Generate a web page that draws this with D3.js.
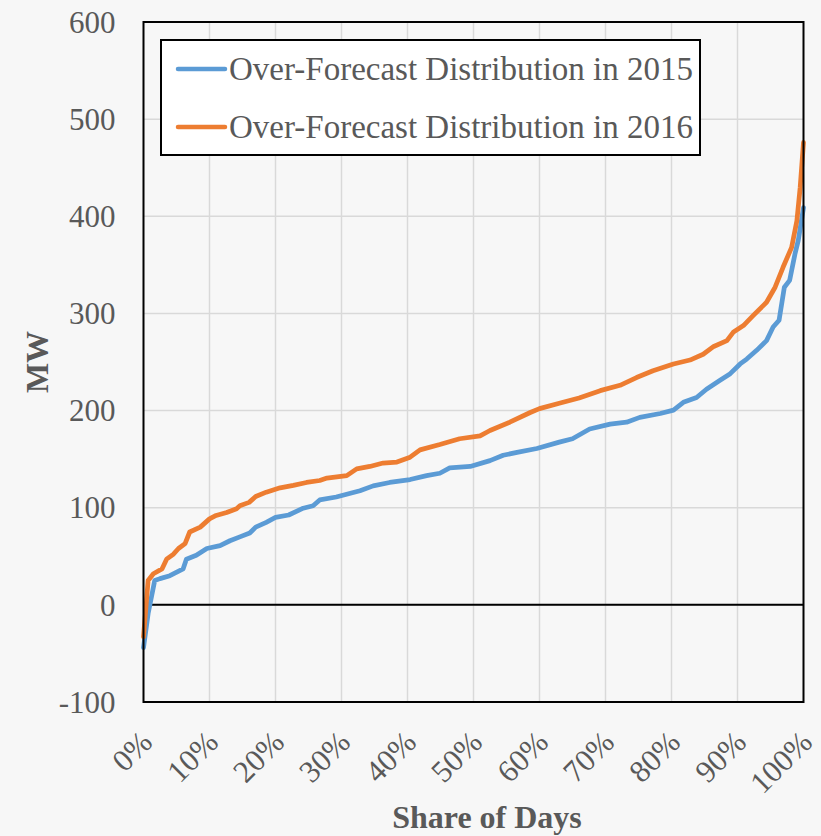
<!DOCTYPE html>
<html>
<head>
<meta charset="utf-8">
<script src="https://cdn.jsdelivr.net/npm/d3@7"></script>
<style>
  html, body { margin: 0; padding: 0; background: #f7f7f7; }
  svg { display: block; }
</style>
</head>
<body>
<script>
// ---- Data ----
const xTickValues = [0, 0.1, 0.2, 0.3, 0.4, 0.5, 0.6, 0.7, 0.8, 0.9, 1.0];
const yTickValues = [-100, 0, 100, 200, 300, 400, 500, 600];
const seriesNames = ["Over-Forecast Distribution in 2015", "Over-Forecast Distribution in 2016"];

const share2015 = [0, 0.007, 0.017, 0.025, 0.04, 0.06, 0.065, 0.08, 0.096, 0.116, 0.131, 0.146, 0.161, 0.17, 0.186, 0.20, 0.22, 0.242, 0.257, 0.267, 0.292, 0.328, 0.348, 0.373, 0.404, 0.429, 0.449, 0.464, 0.495, 0.525, 0.545, 0.566, 0.596, 0.63, 0.65, 0.676, 0.707, 0.732, 0.752, 0.783, 0.803, 0.818, 0.838, 0.853, 0.873, 0.889, 0.904, 0.914, 0.929, 0.944, 0.954, 0.963, 0.971, 0.979, 0.987, 0.992, 1.0];
const mw2015 = [-44, -9, 25, 27, 30, 37, 47, 51, 58, 61, 66, 70, 74, 80, 85, 90, 92.5, 99.5, 102, 108, 111, 117.5, 122.5, 126, 129, 133, 135.5, 141, 142.5, 148.5, 154, 157, 161, 167.5, 171, 181, 186, 188, 193, 197, 200.5, 208.5, 213.5, 222, 231, 238, 248, 253, 262, 272, 286, 293, 327, 334, 361, 375, 409];

const share2016 = [0, 0.007, 0.015, 0.028, 0.035, 0.045, 0.053, 0.063, 0.07, 0.086, 0.10, 0.11, 0.126, 0.141, 0.146, 0.16, 0.17, 0.186, 0.207, 0.227, 0.247, 0.267, 0.278, 0.308, 0.323, 0.343, 0.363, 0.384, 0.404, 0.419, 0.449, 0.479, 0.51, 0.525, 0.555, 0.586, 0.60, 0.63, 0.66, 0.692, 0.722, 0.747, 0.772, 0.803, 0.828, 0.848, 0.864, 0.884, 0.894, 0.909, 0.924, 0.944, 0.957, 0.969, 0.982, 0.99, 0.995, 1.0];
const mw2016 = [-33, 25, 32, 37, 47, 52, 58, 63, 75, 80, 88.5, 92, 95, 99, 102, 105.5, 111.5, 116, 120.5, 123, 126, 128, 130.5, 133, 140, 142.5, 146, 147, 152, 159.5, 165, 171, 174, 179.5, 188, 198, 202, 207.5, 213, 220.5, 226, 234, 241, 248, 252, 258, 266, 272, 281, 287.5, 298, 311.5, 327, 347.5, 368, 395.5, 430, 476];

const colors = ["#5b9bd5", "#ed7d31"];

// ---- Layout ----
const W = 821, H = 836;
const plot = { left: 143.5, right: 803.5, top: 22, bottom: 702 };
const FONT = "'Liberation Serif', 'Times New Roman', serif";
const textColor = "#595959";

const svg = d3.select("body").append("svg").attr("width", W).attr("height", H);
svg.append("rect").attr("width", W).attr("height", H).attr("fill", "#f7f7f7");

const x = d3.scaleLinear().domain([0, 1]).range([plot.left, plot.right]);
const y = d3.scaleLinear().domain([-100, 600]).range([plot.bottom, plot.top]);

// gridlines
const grid = svg.append("g");
grid.selectAll("line.v").data(xTickValues.slice(1, -1)).join("line")
  .attr("x1", d => x(d)).attr("x2", d => x(d))
  .attr("y1", plot.top).attr("y2", plot.bottom)
  .attr("stroke", "#d9d9d9").attr("stroke-width", 1.5);
grid.selectAll("line.h").data(yTickValues.slice(1, -1)).join("line")
  .attr("x1", plot.left).attr("x2", plot.right)
  .attr("y1", d => y(d)).attr("y2", d => y(d))
  .attr("stroke", "#d9d9d9").attr("stroke-width", 1.5);

// zero line
svg.append("line")
  .attr("x1", plot.left).attr("x2", plot.right)
  .attr("y1", y(0)).attr("y2", y(0))
  .attr("stroke", "#000").attr("stroke-width", 2);

// Y axis labels (plain hyphen for negatives)
const yAxis = d3.axisLeft(y).tickValues(yTickValues).tickSize(0).tickPadding(0).tickFormat(d => String(d));
const yg = svg.append("g").attr("transform", `translate(${plot.left - 28},0)`).call(yAxis);
yg.select(".domain").remove();
yg.selectAll("text").attr("font-family", FONT).attr("font-size", 31).attr("fill", textColor).attr("dy", "0.33em");

// X axis labels (rotated)
const xAxis = d3.axisBottom(x).tickValues(xTickValues).tickSize(0).tickFormat(d => Math.round(d * 100) + "%");
const xg = svg.append("g").attr("transform", `translate(0,${plot.bottom})`).call(xAxis);
xg.select(".domain").remove();
xg.selectAll("text")
  .attr("font-family", FONT).attr("font-size", 31).attr("fill", textColor)
  .attr("text-anchor", "end")
  .attr("y", 0).attr("dy", 0)
  .attr("transform", "translate(10,42) rotate(-45)");

// series lines
const seriesData = [
  share2015.map((s, i) => [s, mw2015[i]]),
  share2016.map((s, i) => [s, mw2016[i]])
];
const line = d3.line().x(d => x(d[0])).y(d => y(d[1]));
svg.append("g").selectAll("path").data(seriesData).join("path")
  .attr("d", line)
  .attr("fill", "none")
  .attr("stroke", (d, i) => colors[i])
  .attr("stroke-width", 4.75)
  .attr("stroke-linejoin", "round")
  .attr("stroke-linecap", "round");

// plot border
svg.append("rect")
  .attr("x", plot.left).attr("y", plot.top)
  .attr("width", plot.right - plot.left).attr("height", plot.bottom - plot.top)
  .attr("fill", "none").attr("stroke", "#000").attr("stroke-width", 2);

// axis titles
svg.append("text")
  .attr("transform", `translate(48,${(plot.top + plot.bottom) / 2}) rotate(-90)`)
  .attr("text-anchor", "middle")
  .attr("font-family", FONT).attr("font-size", 32).attr("font-weight", "bold")
  .attr("fill", textColor).text("MW");
svg.append("text")
  .attr("x", 487).attr("y", 828)
  .attr("text-anchor", "middle")
  .attr("font-family", FONT).attr("font-size", 32).attr("font-weight", "bold")
  .attr("fill", textColor).text("Share of Days");

// legend
const lg = svg.append("g");
lg.append("rect").attr("x", 161).attr("y", 40).attr("width", 539).attr("height", 115)
  .attr("fill", "#fff").attr("stroke", "#000").attr("stroke-width", 2);
seriesNames.forEach((name, i) => {
  const cy = 69 + i * 58;
  lg.append("line").attr("x1", 178).attr("x2", 225).attr("y1", cy).attr("y2", cy)
    .attr("stroke", colors[i]).attr("stroke-width", 4.5).attr("stroke-linecap", "round");
  lg.append("text").attr("x", 229).attr("y", cy + 11)
    .attr("font-family", FONT).attr("font-size", 33).attr("fill", textColor).text(name);
});
</script>
</body>
</html>
